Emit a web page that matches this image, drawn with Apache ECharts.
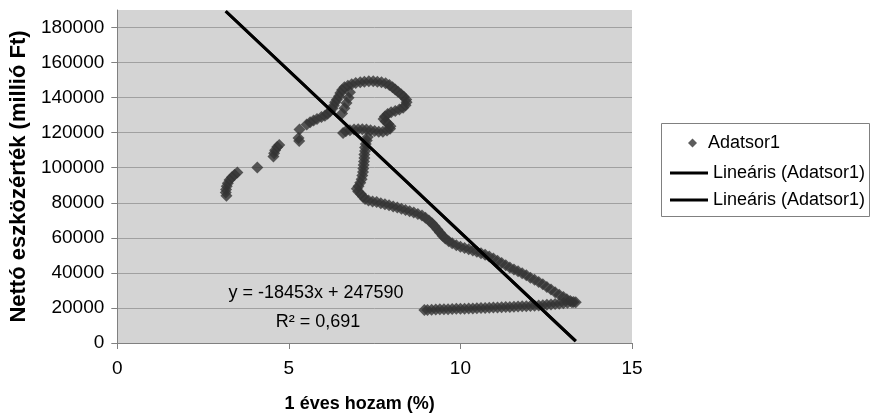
<!DOCTYPE html>
<html>
<head>
<meta charset="utf-8">
<script src="https://cdn.jsdelivr.net/npm/echarts@6/dist/echarts.min.js"></script>
<style>
html,body{margin:0;padding:0;background:#fff;}
#chart{width:872px;height:418px;}
</style>
</head>
<body>
<div id="chart"></div>
<script>
// 1 éves hozam (%) values
const xValues = [
  3.18,3.16,3.17,3.19,3.22,3.27,3.34,3.42,3.50,4.08,4.55,4.57,4.60,4.66,4.72,5.30,5.28,5.31,5.52,5.62,5.72,5.82,
  5.95,6.05,6.13,6.20,6.27,6.31,6.35,6.40,6.46,6.50,6.55,6.62,6.72,6.83,6.95,7.08,7.20,7.33,7.46,7.58,7.70,7.82,7.93,8.02,8.10,8.18,8.27,8.35,8.42,8.43,8.40,8.33,8.22,8.10,7.98,7.88,7.80,7.76,7.82,7.90,7.96,7.95,7.86,7.74,7.62,7.50,7.38,7.26,7.14,7.02,6.90,6.78,6.66,6.58,
  6.55,6.62,6.68,6.74,6.78,
  7.30,7.27,7.24,7.22,7.22,7.20,7.20,7.19,7.18,7.17,7.16,7.14,7.12,7.08,7.03,6.98,7.02,7.10,7.16,7.22,7.32,7.44,7.56,7.68,7.80,7.92,8.04,8.16,8.28,8.40,8.52,8.64,8.76,8.88,8.98,9.08,9.17,9.25,9.33,9.40,9.48,9.56,9.66,9.76,9.88,10.00,10.12,10.24,10.36,10.48,
  10.60,10.72,10.84,10.96,11.08,11.20,11.32,11.44,11.56,11.68,11.80,11.92,12.04,12.16,12.28,12.40,12.52,12.64,12.76,12.88,13.00,13.10,13.20,13.30,13.36,
  13.25,13.12,13.00,12.88,12.76,12.64,12.52,12.40,12.28,12.16,12.04,11.92,11.80,11.68,11.56,11.44,11.32,11.20,11.08,10.96,10.84,10.72,10.60,10.48,10.36,10.24,10.12,10.00,9.88,9.76,9.64,9.52,9.40,9.28,9.16,9.04,8.95
];
// Nettó eszközérték (millió Ft) values
const yValues = [
  84000,85800,87600,89400,91200,93000,94600,96000,97300,100200,106400,108200,110000,111800,113000,115200,117000,121800,124600,126000,127000,127800,
  128900,129600,130800,132200,133800,135500,137300,139000,140800,142600,144400,145900,146800,147600,148300,148800,149100,149300,149300,149100,148800,148200,147200,145900,144600,143300,141900,140500,139000,137300,135600,134200,133200,132400,131600,130600,129300,127800,126400,125000,123600,122200,121200,120600,120600,121000,121400,121800,122000,122000,121800,121400,120800,119800,
  131000,134000,137000,140000,143000,
  117500,115500,113500,111500,109500,107500,105500,103500,101500,99500,97500,95500,93500,91500,89500,88000,86500,85000,83500,82200,81300,80800,80400,79800,79200,78600,77900,77300,76600,75900,75200,74500,73600,72700,71400,69900,68300,66600,64800,63000,61200,59600,58100,56900,55800,54900,54200,53500,52800,52000,
  51200,50300,49300,48200,47000,45600,44300,43100,42000,41000,39800,38600,37300,36100,34800,33500,32000,30500,29000,27600,26200,25000,24000,23400,23200,
  23300,23000,22700,22400,22200,22000,21800,21600,21400,21300,21100,21000,20900,20800,20700,20600,20500,20400,20300,20200,20100,20000,19900,19800,19700,19700,19600,19500,19500,19400,19300,19300,19200,19100,19000,18900,18800
];
// Trendline coefficients (from the chart's equation)
const slope = -18453;
const intercept = 247590;
const equationText = 'y = -18453x + 247590';
const r2Text = 'R\u00B2 = 0,691';
const xTicks = [0, 5, 10, 15];
const yTicks = [0, 20000, 40000, 60000, 80000, 100000, 120000, 140000, 160000, 180000];

const points = xValues.map((x, i) => [x, yValues[i]]);
const xMin = Math.min(...xValues), xMax = Math.max(...xValues);
const trend = [[xMin, slope * xMin + intercept], [xMax, slope * xMax + intercept]];

const chart = echarts.init(document.getElementById('chart'));
const font = 'Liberation Sans, Arial, sans-serif';
chart.setOption({
  animation: false,
  backgroundColor: '#ffffff',
  textStyle: { fontFamily: font },
  grid: { left: 114, top: 10, width: 518, height: 336, show: true, backgroundColor: '#d4d4d4', borderWidth: 0 },
  xAxis: {
    type: 'value', min: 0, max: 15, interval: 5,
    name: '1 éves hozam (%)', nameLocation: 'middle', nameGap: 52,
    nameTextStyle: { fontFamily: font, fontSize: 18, fontWeight: 'bold', color: '#000', padding: [0, 30, 0, 0] },
    axisLine: { show: true, onZero: false, lineStyle: { color: '#808080', width: 1 } },
    axisTick: { show: true, inside: false, length: 6, lineStyle: { color: '#808080' } },
    axisLabel: { fontFamily: font, fontSize: 19, color: '#000', margin: 16,
      formatter: v => (xTicks.indexOf(v) >= 0 ? String(v) : '') },
    splitLine: { show: false }
  },
  yAxis: {
    type: 'value', min: 0, max: 190000, interval: 20000,
    name: 'Nettó eszközérték (millió Ft)', nameLocation: 'middle', nameGap: 84, nameRotate: 90,
    nameTextStyle: { fontFamily: font, fontSize: 22, fontWeight: 'bold', color: '#000' },
    axisLine: { show: true, lineStyle: { color: '#808080', width: 1 } },
    axisTick: { show: true, inside: false, length: 6, lineStyle: { color: '#808080' } },
    axisLabel: { fontFamily: font, fontSize: 19, color: '#000', margin: 13, showMaxLabel: false,
      formatter: v => (yTicks.indexOf(v) >= 0 ? String(v) : '') },
    splitLine: { show: true, showMaxLine: false, lineStyle: { color: '#a0a0a0', width: 1 } }
  },
  legend: [
    {
      data: ['Adatsor1'], orient: 'vertical', left: 683, top: 129,
      itemWidth: 9, itemHeight: 9, icon: 'diamond',
      textStyle: { fontFamily: font, fontSize: 18, color: '#000', padding: [0, 0, 0, 6] }
    },
    {
      data: ['Lineáris (Adatsor1)', 'Lineáris (Adatsor1) '], orient: 'vertical', left: 665, top: 159,
      itemWidth: 38, itemHeight: 3, itemGap: 9, icon: 'rect',
      textStyle: { fontFamily: font, fontSize: 18, color: '#000' }
    }
  ],
  graphic: [
    { type: 'rect', z: -1, shape: { x: 661.5, y: 123.5, width: 208, height: 93 }, style: { fill: '#fff', stroke: '#808080', lineWidth: 1 } },
    { type: 'text', x: 316, y: 293, z: 10, style: { text: equationText, font: '18px ' + font, fill: '#000', align: 'center', verticalAlign: 'middle' } },
    { type: 'text', x: 318, y: 322, z: 10, style: { text: r2Text, font: '18px ' + font, fill: '#000', align: 'center', verticalAlign: 'middle' } }
  ],
  series: [
    { name: 'Adatsor1', type: 'scatter', data: points, symbol: 'diamond', symbolSize: 12,
      itemStyle: { color: '#333333' }, z: 2 },
    { name: 'Lineáris (Adatsor1)', type: 'line', data: trend, symbol: 'none', showSymbol: false,
      lineStyle: { color: '#000', width: 3 }, itemStyle: { color: '#000' }, z: 3 },
    { name: 'Lineáris (Adatsor1) ', type: 'line', data: trend, symbol: 'none', showSymbol: false,
      lineStyle: { color: '#000', width: 3 }, itemStyle: { color: '#000' }, z: 3 }
  ]
});
</script>
</body>
</html>
